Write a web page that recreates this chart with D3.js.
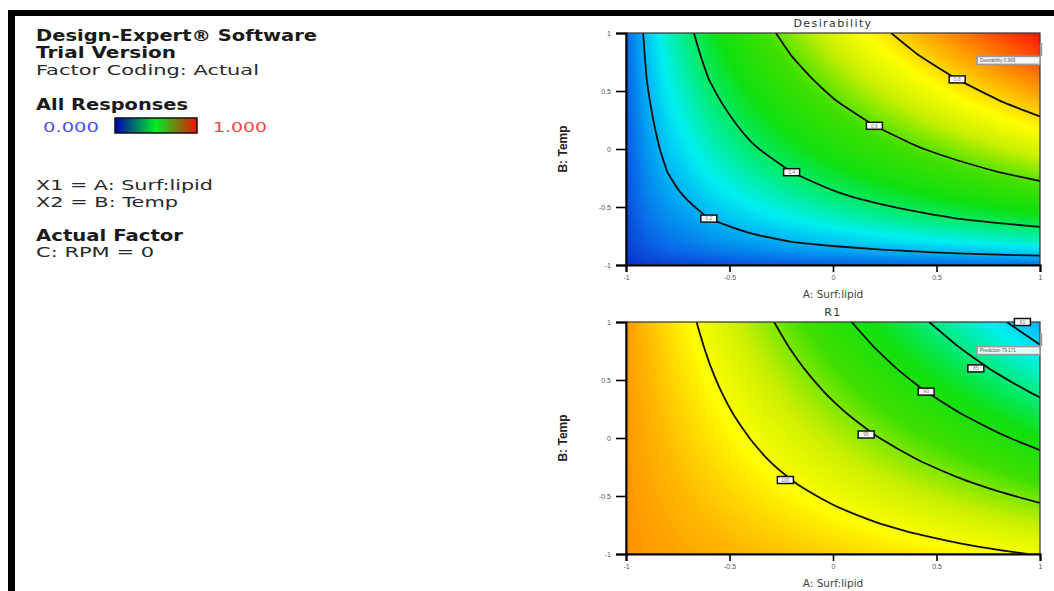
<!DOCTYPE html>
<html lang="en">
<head>
<meta charset="UTF-8">
<title>Desirability and R1 contour plots</title>
<style>
  body { margin: 0; background: #fff; }
  svg text { font-family: "DejaVu Sans", Verdana, sans-serif; }
  .info { fill: #2a2a2a; font-size: 14px; }
  .info.bold { font-weight: bold; fill: #1a1a1a; font-size: 15px; }
  .axis .domain { stroke: #000; stroke-width: 2px; }
  .axis .tick line { stroke: #000; stroke-width: 1.6px; }
  .axis .tick text { font-family: "Liberation Sans", Arial, sans-serif; font-size: 7px; fill: #555; }
  .iso { fill: none; stroke: #111; stroke-width: 1.8px; }
  .clabel rect { fill: #fff; stroke: #111; stroke-width: 1.5px; }
  .clabel text { font-family: "Liberation Sans", Arial, sans-serif; font-size: 5px; fill: #777; }
  .flag rect { fill: #f6f6f6; stroke: #9a9a9a; stroke-width: 1.6px; }
  .flag text { font-family: "Liberation Sans", Arial, sans-serif; font-size: 4.6px; fill: #555; }
</style>
</head>
<body>
<svg id="chart" width="1054" height="591"></svg>
<script src="https://d3js.org/d3.v7.min.js"></script>
<script>
// grid positions (coded units) for both factors, A: Surf:lipid and B: Temp
const axisVals = [-1, -0.9, -0.8, -0.6, -0.4, -0.2, 0, 0.2, 0.4, 0.6, 0.8, 1];
const tickVals = [-1, -0.5, 0, 0.5, 1];

// Desirability surface, rows from B = -1 (first) to B = 1 (last), columns A = -1 .. 1
const desirGrid = [
  [0, 0.020, 0.030, 0.045, 0.055, 0.065, 0.070, 0.080, 0.085, 0.090, 0.095, 0.100],
  [0.020, 0.050, 0.071, 0.100, 0.123, 0.142, 0.158, 0.174, 0.187, 0.200, 0.213, 0.224],
  [0.030, 0.071, 0.100, 0.141, 0.173, 0.200, 0.224, 0.245, 0.265, 0.283, 0.300, 0.316],
  [0.040, 0.100, 0.141, 0.200, 0.245, 0.283, 0.316, 0.346, 0.374, 0.400, 0.424, 0.447],
  [0.050, 0.123, 0.173, 0.245, 0.300, 0.346, 0.387, 0.424, 0.458, 0.490, 0.520, 0.548],
  [0.055, 0.141, 0.200, 0.283, 0.346, 0.400, 0.447, 0.490, 0.529, 0.566, 0.600, 0.632],
  [0.060, 0.158, 0.224, 0.316, 0.387, 0.447, 0.500, 0.548, 0.592, 0.632, 0.671, 0.707],
  [0.065, 0.173, 0.245, 0.346, 0.424, 0.490, 0.548, 0.600, 0.648, 0.693, 0.735, 0.775],
  [0.070, 0.187, 0.265, 0.374, 0.458, 0.529, 0.592, 0.648, 0.700, 0.748, 0.794, 0.837],
  [0.075, 0.200, 0.283, 0.400, 0.490, 0.566, 0.632, 0.693, 0.748, 0.800, 0.849, 0.894],
  [0.080, 0.212, 0.300, 0.424, 0.520, 0.600, 0.671, 0.735, 0.794, 0.849, 0.900, 0.949],
  [0.085, 0.224, 0.316, 0.447, 0.548, 0.632, 0.707, 0.775, 0.837, 0.894, 0.949, 1.000]
];
const desirLevels = [0.2, 0.4, 0.6, 0.8];
const desirLabelA = [-0.6, -0.2, 0.2, 0.6];
const desirFlag = [1, 0.88];
const desirFlagText = "Desirability 0.969";

// R1 surface, same layout
const r1Grid = [
  [104.89, 104.64, 104.39, 103.88, 103.38, 102.87, 102.37, 101.87, 101.36, 100.86, 100.35, 99.85],
  [104.87, 104.56, 104.26, 103.65, 103.03, 102.42, 101.81, 101.20, 100.59, 99.97, 99.36, 98.75],
  [104.85, 104.49, 104.13, 103.41, 102.69, 101.97, 101.25, 100.53, 99.81, 99.09, 98.37, 97.65],
  [104.83, 104.36, 103.89, 102.95, 102.02, 101.08, 100.14, 99.20, 98.26, 97.33, 96.39, 95.45],
  [104.79, 104.21, 103.64, 102.48, 101.33, 100.17, 99.02, 97.87, 96.71, 95.56, 94.40, 93.25],
  [104.75, 104.07, 103.38, 102.01, 100.64, 99.27, 97.90, 96.53, 95.16, 93.79, 92.42, 91.05],
  [104.73, 103.93, 103.14, 101.55, 99.97, 98.38, 96.79, 95.20, 93.61, 92.03, 90.44, 88.85],
  [104.69, 103.79, 102.89, 101.08, 99.28, 97.47, 95.67, 93.87, 92.06, 90.26, 88.45, 86.65],
  [104.65, 103.64, 102.63, 100.61, 98.59, 96.57, 94.55, 92.53, 90.51, 88.49, 86.47, 84.45],
  [104.61, 103.49, 102.37, 100.14, 97.90, 95.67, 93.43, 91.19, 88.96, 86.72, 84.49, 82.25],
  [104.59, 103.36, 102.14, 99.68, 97.23, 94.77, 92.32, 89.87, 87.41, 84.96, 82.50, 80.05],
  [104.55, 103.22, 101.88, 99.21, 96.54, 93.87, 91.20, 88.53, 85.86, 83.19, 80.52, 77.85]
];
const r1Levels = [100, 95, 90, 85, 80];
const r1LabelA = [-0.23, 0.16, 0.45, 0.69, 0.915];
const r1Flag = [1, 0.87];
const r1FlagText = "Prediction 79.171";

// Design-Expert style colour ramp, 0 = low, 1 = high
const rampStops = [0, 0.08, 0.2, 0.28, 0.38, 0.47, 0.58, 0.68, 0.76, 0.86, 1];
const rampColors = ["#0a2fc8", "#0a64e6", "#00b4f5", "#00f0f0", "#00ec78", "#10e010",
                    "#40e000", "#c8f000", "#ffff00", "#ffa000", "#ff1400"];

const svg = d3.select("#chart");
const color = d3.scaleLinear().domain(rampStops).range(rampColors).clamp(true);
const n = axisVals.length;
const idxToVal = d3.scaleLinear().domain(d3.range(n)).range(axisVals).clamp(true);

// black frame on top and left
svg.append("rect").attr("x", 8).attr("y", 10).attr("width", 1046).attr("height", 6).attr("fill", "#000");
svg.append("rect").attr("x", 8).attr("y", 10).attr("width", 7).attr("height", 581).attr("fill", "#000");

// info block (widths follow the stretched text of the original)
const info = svg.append("g");
function infoText(txt, y, bold, w) {
  info.append("text").attr("class", bold ? "info bold" : "info").attr("x", 36).attr("y", y)
    .attr("textLength", w).attr("lengthAdjust", "spacingAndGlyphs").text(txt);
}
infoText("Design-Expert\u00ae Software", 41, true, 281);
infoText("Trial Version", 58, true, 140);
infoText("Factor Coding: Actual", 75, false, 223);
infoText("All Responses", 110, true, 152);
infoText("X1 = A: Surf:lipid", 190, false, 177);
infoText("X2 = B: Temp", 207, false, 142);
infoText("Actual Factor", 241, true, 147);
infoText("C: RPM = 0", 257, false, 118);

const grad = svg.append("defs").append("linearGradient").attr("id", "legendGrad");
grad.append("stop").attr("offset", "0%").attr("stop-color", "#0000b4");
grad.append("stop").attr("offset", "50%").attr("stop-color", "#00ee20");
grad.append("stop").attr("offset", "100%").attr("stop-color", "#ee1000");
svg.append("text").attr("x", 43).attr("y", 132).attr("fill", "#5050ee").style("font-size", "14px")
  .attr("textLength", 56).attr("lengthAdjust", "spacingAndGlyphs").text("0.000");
svg.append("rect").attr("x", 115).attr("y", 118).attr("width", 82).attr("height", 15)
  .attr("fill", "url(#legendGrad)").attr("stroke", "#111").attr("stroke-width", 1.5);
svg.append("text").attr("x", 213).attr("y", 132).attr("fill", "#ee4848").style("font-size", "14px")
  .attr("textLength", 54).attr("lengthAdjust", "spacingAndGlyphs").text("1.000");

const plotLeft = 626, plotRight = 1040, plotH = 232;

function isoRuns(flat, level) {
  const mp = d3.contours().size([n, n]).thresholds([level])(flat)[0];
  const e = 1e-6;
  const inside = p => p[0] >= 0.5 - e && p[0] <= n - 0.5 + e && p[1] >= 0.5 - e && p[1] <= n - 0.5 + e;
  const runs = [];
  mp.coordinates.forEach(poly => poly.forEach(ring => {
    const pts = ring.slice(0, -1);
    const k = pts.findIndex(p => !inside(p));
    if (k < 0) { runs.push(ring); return; }
    const rot = pts.slice(k).concat(pts.slice(0, k));
    let cur = [];
    rot.forEach(p => {
      if (inside(p)) cur.push(p);
      else { if (cur.length > 1) runs.push(cur); cur = []; }
    });
    if (cur.length > 1) runs.push(cur);
  }));
  return runs;
}

function drawPanel(p) {
  const x = d3.scaleLinear().domain([-1, 1]).range([plotLeft, plotRight]);
  const y = d3.scaleLinear().domain([-1, 1]).range([p.top + plotH, p.top]);
  const px = c => x(idxToVal(c - 0.5));
  const py = c => y(idxToVal(c - 0.5));
  const g = svg.append("g");

  const clipId = "clip" + p.top;
  g.append("clipPath").attr("id", clipId).append("rect")
    .attr("x", plotLeft).attr("y", p.top).attr("width", plotRight - plotLeft).attr("height", plotH);

  const flat = p.grid.flat();
  const norm = d3.scaleLinear().domain(p.domain).range([0, 1]);
  const step = 0.005;
  const thresholds = d3.range(0, 1, step).map(t => norm.invert(t));
  const bands = d3.contours().size([n, n]).thresholds(thresholds)(flat);
  const proj = d3.geoTransform({ point(cx, cy) { this.stream.point(px(cx), py(cy)); } });
  const path = d3.geoPath(proj);

  g.append("g").attr("clip-path", `url(#${clipId})`)
    .selectAll("path").data(bands).join("path")
    .attr("d", path)
    .attr("fill-rule", "evenodd")
    .attr("fill", d => color(norm(d.value) + step / 2));

  const line = d3.line().x(q => px(q[0])).y(q => py(q[1])).curve(d3.curveCatmullRom);
  const labels = [];
  p.levels.forEach((lv, i) => {
    const runs = isoRuns(flat, lv);
    runs.forEach(r => g.append("path").attr("class", "iso").attr("clip-path", `url(#${clipId})`).attr("d", line(r)));
    // label sits on the isoline where A is closest to the value
    let best = null, bd = Infinity;
    runs.forEach(r => r.forEach(q => {
      const d = Math.abs(idxToVal(q[0] - 0.5) - p.labelA[i]);
      if (d < bd) { bd = d; best = q; }
    }));
    if (best) labels.push({ x: x(p.labelA[i]), y: py(best[1]), v: lv });
  });

  // frame
  g.append("rect").attr("x", plotLeft).attr("y", p.top).attr("width", plotRight - plotLeft).attr("height", plotH)
    .attr("fill", "none").attr("stroke", "#333").attr("stroke-width", 1.2);

  const lab = g.selectAll("g.clabel").data(labels).join("g").attr("class", "clabel")
    .attr("transform", d => `translate(${d.x},${d.y})`);
  lab.append("rect").attr("x", -8).attr("y", -3.5).attr("width", 16).attr("height", 7);
  lab.append("text").attr("text-anchor", "middle").attr("dy", "1.8").text(d => p.labelFmt(d.v));

  // flag
  const fx = x(p.flag[0]), fy = y(p.flag[1]);
  g.append("line").attr("x1", fx + 1).attr("x2", fx + 1).attr("y1", fy - 4).attr("y2", fy + 9)
    .attr("stroke", "#9a9a9a").attr("stroke-width", 2.5);
  const fl = g.append("g").attr("class", "flag");
  fl.append("rect").attr("x", fx - 63).attr("y", fy + 9.5).attr("width", 63).attr("height", 8);
  fl.append("text").attr("x", fx - 60).attr("y", fy + 15.2).text(p.flagText);

  g.append("g").attr("class", "axis").attr("transform", `translate(0,${p.top + plotH})`)
    .call(d3.axisBottom(x).tickValues(tickVals).tickFormat(d => String(d)).tickSize(7).tickPadding(3));
  g.append("g").attr("class", "axis").attr("transform", `translate(${plotLeft},0)`)
    .call(d3.axisLeft(y).tickValues(tickVals).tickFormat(d => String(d)).tickSize(10).tickPadding(5));

  g.append("text").attr("x", (plotLeft + plotRight) / 2).attr("y", p.top - 6)
    .attr("text-anchor", "middle").style("font-size", "11px").style("letter-spacing", "1.4px")
    .attr("fill", "#333").text(p.title);
  g.append("text").attr("x", (plotLeft + plotRight) / 2).attr("y", p.top + plotH + 33)
    .attr("text-anchor", "middle").style("font-size", "10.5px").attr("fill", "#444").text("A: Surf:lipid");
  g.append("text").attr("transform", `translate(567,${p.top + plotH / 2}) rotate(-90)`)
    .attr("text-anchor", "middle").style("font-size", "12px").attr("fill", "#222")
    .style("font-family", "'Liberation Sans Narrow', 'Liberation Sans', Arial, sans-serif")
    .style("font-weight", "bold").text("B: Temp");
}

drawPanel({ top: 33, title: "Desirability", grid: desirGrid, domain: [0, 1], levels: desirLevels,
  labelA: desirLabelA, labelFmt: d3.format(".1f"), flag: desirFlag, flagText: desirFlagText });
drawPanel({ top: 322, title: "R1", grid: r1Grid, domain: [70, 110], levels: r1Levels,
  labelA: r1LabelA, labelFmt: d3.format("d"), flag: r1Flag, flagText: r1FlagText });
</script>
</body>
</html>
